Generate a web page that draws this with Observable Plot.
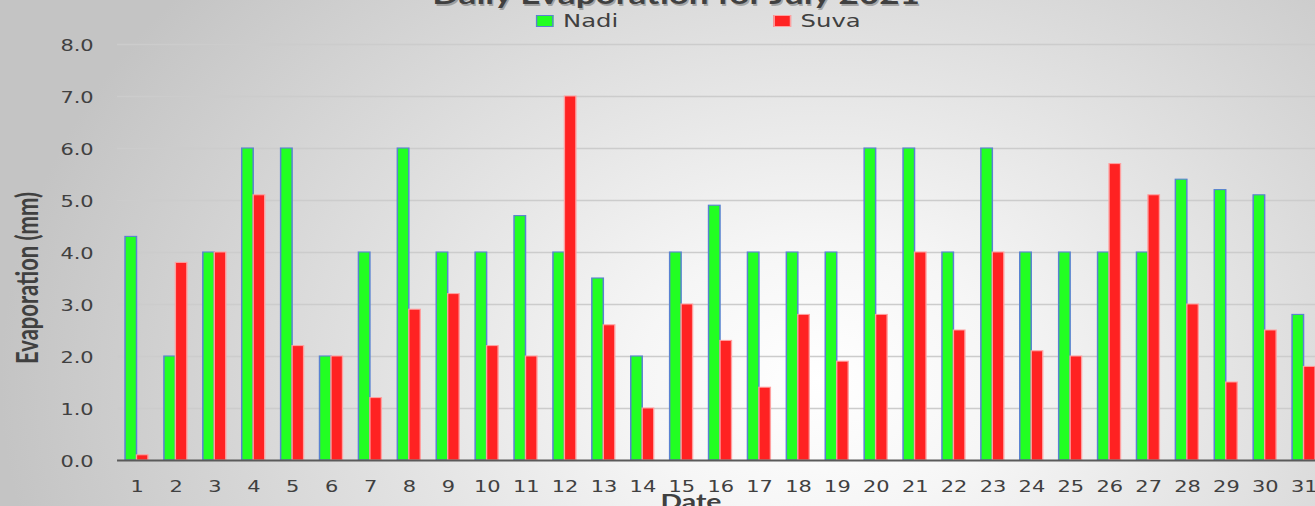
<!DOCTYPE html>
<html>
<head>
<meta charset="utf-8">
<script src="https://cdn.jsdelivr.net/npm/d3@7"></script>
<script src="https://cdn.jsdelivr.net/npm/@observablehq/plot@0.6"></script>
<style>
  html, body { margin: 0; padding: 0; overflow: hidden; }
  #wrap {
    position: relative; width: 1315px; height: 506px; overflow: hidden;
    background: radial-gradient(ellipse 820px 620px at 820px 380px, #ffffff 0%, #f6f6f6 22%, #c4c4c4 100%);
  }
  #inner { position: absolute; left: 0; top: 0; width: 980px; height: 506px; transform: scaleX(1.35); transform-origin: 0 0; }
  #inner svg { position: absolute; left: 0; top: 0; }
  .lg-sw { position: absolute; box-sizing: border-box; }
  .lg-tx { position: absolute; font-family: "DejaVu Sans"; font-size: 18px; line-height: 18px; color: #404040; white-space: nowrap; }
</style>
</head>
<body>
<div id="wrap"><div id="inner"></div></div>
<script>
// ---- data ----
const dates = [1,2,3,4,5,6,7,8,9,10,11,12,13,14,15,16,17,18,19,20,21,22,23,24,25,26,27,28,29,30,31];
const nadi  = [4.3,2.0,4.0,6.0,6.0,2.0,4.0,6.0,4.0,4.0,4.7,4.0,3.5,2.0,4.0,4.9,4.0,4.0,4.0,6.0,6.0,4.0,6.0,4.0,4.0,4.0,4.0,5.4,5.2,5.1,2.8];
const suva  = [0.1,3.8,4.0,5.1,2.2,2.0,1.2,2.9,3.2,2.2,2.0,7.0,2.6,1.0,3.0,2.3,1.4,2.8,1.9,2.8,4.0,2.5,4.0,2.1,2.0,5.7,5.1,3.0,1.5,2.5,1.8];
const yTicks = [0,1,2,3,4,5,6,7,8];
const seriesNames = ["Nadi", "Suva"];
const title = "Daily Evaporation for July 2021";
const xLabel = "Date";
const yLabel = "Evaporation (mm)";

const table = dates.map((d, i) => ({date: d, nadi: nadi[i], suva: suva[i]}));

// ---- layout (unscaled coordinates; the whole chart is stretched by 1.35 horizontally) ----
const W = 980, H = 506, mL = 86.7, mR = 0, mT = 44, mB = 46;
const step = (W - mL - mR) / dates.length;
const barW = 8.5;
const half = step / 2;
const green = "#22ff22", greenStroke = "#5a82d2";
const red = "#ff2222", redStroke = "#ffa0a0";
const ink = "#404040";

const chart = Plot.plot({
  width: W, height: H,
  marginLeft: mL, marginRight: mR, marginTop: mT, marginBottom: mB,
  style: {fontFamily: "DejaVu Sans", fontSize: "15.5px", color: ink, background: "transparent", overflow: "visible"},
  x: {type: "band", domain: dates, padding: 0, round: false, label: null},
  y: {domain: [0, 8], label: null},
  marks: [
    Plot.ruleY(yTicks.filter(t => t > 0), {stroke: "#cccccc", strokeWidth: 1.5}),
    Plot.barY(table, {x: "date", y: "nadi", fill: green, stroke: greenStroke, strokeWidth: 1.1,
      insetLeft: half - barW, insetRight: half}),
    Plot.barY(table, {x: "date", y: "suva", fill: red, stroke: redStroke, strokeWidth: 1,
      insetLeft: half, insetRight: half - barW}),
    Plot.ruleY([0], {stroke: "#5a5a5a", strokeWidth: 2}),
    Plot.axisY({ticks: yTicks, tickFormat: d3.format(".1f"), tickSize: 0, tickPadding: 17.8, dy: 2, label: null, fill: ink}),
    Plot.axisX({tickSize: 0, tickPadding: 20, label: null, fill: ink}),
    Plot.text([yLabel], {frameAnchor: "left", textAnchor: "middle", rotate: -90, dx: -66, dy: 25.5, fontFamily: "Lato", fontWeight: "bold", fontSize: 22, fill: ink}),
    Plot.text([xLabel], {frameAnchor: "bottom", lineAnchor: "top", dx: -22, dy: 34, fontFamily: "Lato", fontWeight: "bold", fontSize: 21, fill: ink}),
    Plot.text([title], {frameAnchor: "top", lineAnchor: "top", dx: -32, dy: -57, fontFamily: "Lato", fontWeight: "bold", fontSize: 26, fill: "rgba(0,0,0,0.25)"}),
    Plot.text([title], {frameAnchor: "top", lineAnchor: "top", dx: -33, dy: -59, fontFamily: "Lato", fontWeight: "bold", fontSize: 26, fill: ink})
  ]
});

const inner = document.getElementById("inner");
inner.appendChild(chart);

// ---- legend ----
const legendItems = [
  {name: seriesNames[0], fill: green, stroke: greenStroke, x: 397},
  {name: seriesNames[1], fill: red, stroke: redStroke, x: 573}
];
for (const it of legendItems) {
  const sw = document.createElement("div");
  sw.className = "lg-sw";
  sw.style.cssText = `left:${it.x}px; top:15px; width:12.6px; height:12px; background:${it.fill}; border:1px solid ${it.stroke};`;
  inner.appendChild(sw);
  const tx = document.createElement("div");
  tx.className = "lg-tx";
  tx.style.left = (it.x + 20) + "px";
  tx.style.top = "11.5px";
  tx.textContent = it.name;
  inner.appendChild(tx);
}
</script>
</body>
</html>
